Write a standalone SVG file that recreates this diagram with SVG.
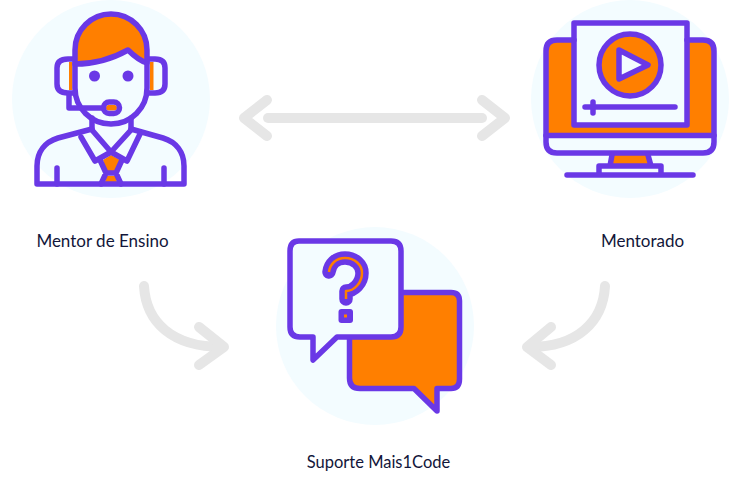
<svg xmlns="http://www.w3.org/2000/svg" width="745" height="478" viewBox="0 0 745 478">
<style>
.bg{fill:#f3fcff}
.o{fill:#ff7f00}
.p{stroke:#6a38e6;stroke-width:5.5;stroke-linecap:round;stroke-linejoin:round;fill:none}
.f{fill:#6a38e6}
.a{stroke:#e6e6e6;stroke-width:10;stroke-linecap:round;stroke-linejoin:round;fill:none}
.t{font-family:"Lato","Noto Sans",sans-serif;font-size:17px;fill:#12163a;text-anchor:middle}
</style>
<rect width="745" height="478" fill="#fff"/>
<g id="connectors">
<path class="a" d="M268 118H482"/>
<path class="a" d="M267 100L244 118L267 136"/>
<path class="a" d="M482 100L505 118L482 136"/>
<path class="a" d="M144 286C146 322 172 347 222 347"/>
<path class="a" d="M199 327L224 347L199 365"/>
<path class="a" d="M605 286C603 322 577 347 530 347"/>
<path class="a" d="M551 327L527 347L551 365"/>
</g>
<g id="mentor">
<circle class="bg" cx="111" cy="99" r="99"/>
<path class="o" d="M75 63V50a36 36 0 0 1 72 0V63C138 60 133 55 128 50C112 59 95 63 75 63Z"/>
<rect class="o" x="69" y="62" width="3.500" height="28"/>
<rect class="o" x="150" y="62" width="3.500" height="28"/>
<rect class="o" x="106" y="105" width="11" height="5.500" rx="2.700"/>
<path class="o" d="M103 160L111 155L120 160L116 171H106ZM106 176H116L117 182H105Z"/>
<path class="p" d="M75 63V50a36 36 0 0 1 72 0V88C147 108 131 124 111 124C91 124 75 108 75 88Z"/>
<path class="p" d="M75 64C95 64 112 59 128 50C133 55 138 60 147 63"/>
<path class="p" d="M74 59H68Q57 59 57 68V84Q57 93 68 93H74"/>
<path class="p" d="M148 59H155Q165 59 165 68V84Q165 93 155 93H148"/>
<path class="p" d="M69 95V108H103"/>
<rect class="p" x="103.500" y="102" width="16" height="11.500" rx="5.700"/>
<circle class="f" cx="94.500" cy="76" r="5.500"/>
<circle class="f" cx="128" cy="76" r="5.500"/>
<path class="p" d="M92 118V130L111 152L131 130V118"/>
<path class="p" d="M92 129L58 138C45 142 37 152 37 166V184H184V166C184 152 176 142 163 138L131 129"/>
<path class="p" d="M81 137L95 161L111 152L127 161L140 134"/>
<path class="p" d="M101 184L106 173L100 160M121 184L116 173L122 160M106 173H116M57 168V184M164 168V184"/>
</g>
<g id="mentorado">
<circle class="bg" cx="630" cy="99" r="99"/>
<path class="o" d="M546 135V48Q546 40 554 40H706Q714 40 714 48V135Z"/>
<path class="o" d="M612 155H648L651 164H609Z"/>
<rect x="574" y="23" width="113" height="102" fill="#f3fcff"/>
<circle class="o" cx="630" cy="65" r="31"/>
<path class="p" d="M546 135.500H714"/>
<path class="p" d="M574 40H557Q546 40 546 51V142Q546 153 557 153H703Q714 153 714 142V51Q714 40 703 40H687"/>
<rect class="p" x="574" y="23" width="113" height="102"/>
<circle class="p" cx="630" cy="65" r="31"/>
<path class="p" d="M619 50L648 65L619 79Z" style="fill:#f3fcff"/>
<path class="p" d="M585 107H675M593 102V113"/>
<path class="p" d="M612 155L610 166M648 155L651 166M599 175V166H661V175M567 175H693"/>
</g>
<g id="suporte">
<circle class="bg" cx="375" cy="326" r="99"/>
<path class="o" d="M360 292.500H451Q459.500 292.500 459.500 301V379Q459.500 388.500 451 388.500H437V411L414 388.500H360Q349.500 388.500 349.500 378V303Q349.500 292.500 360 292.500Z" stroke="#6a38e6" stroke-width="5.500" stroke-linejoin="round"/>
<path d="M299 241H391Q401 241 401 251V327Q401 337 391 337H337L313 360V337H300Q290 337 290 327V251Q290 241 299 241Z" fill="#f3fcff" stroke="#6a38e6" stroke-width="5.500" stroke-linejoin="round"/>
<path d="M329 272C330 264 336 258 345 258C355 258 362 265 362 273C362 283 354 291 346 291V299" fill="none" stroke="#6a38e6" stroke-width="13.500" stroke-linecap="round" stroke-linejoin="round"/>
<path d="M329 272C330 264 336 258 345 258C355 258 362 265 362 273C362 283 354 291 346 291V299" fill="none" stroke="#ff7f00" stroke-width="2.500" stroke-linejoin="round"/>
<rect x="338.500" y="309" width="14.500" height="14" rx="3" class="f"/>
<rect x="344" y="314.500" width="3" height="3" class="o"/>
</g>
<g id="labels">
<text class="t" x="102.500" y="247">Mentor de Ensino</text>
<text class="t" x="642.500" y="247">Mentorado</text>
<text class="t" x="378.500" y="468" style="font-size:16.500px">Suporte Mais1Code</text>
</g>
</svg>
